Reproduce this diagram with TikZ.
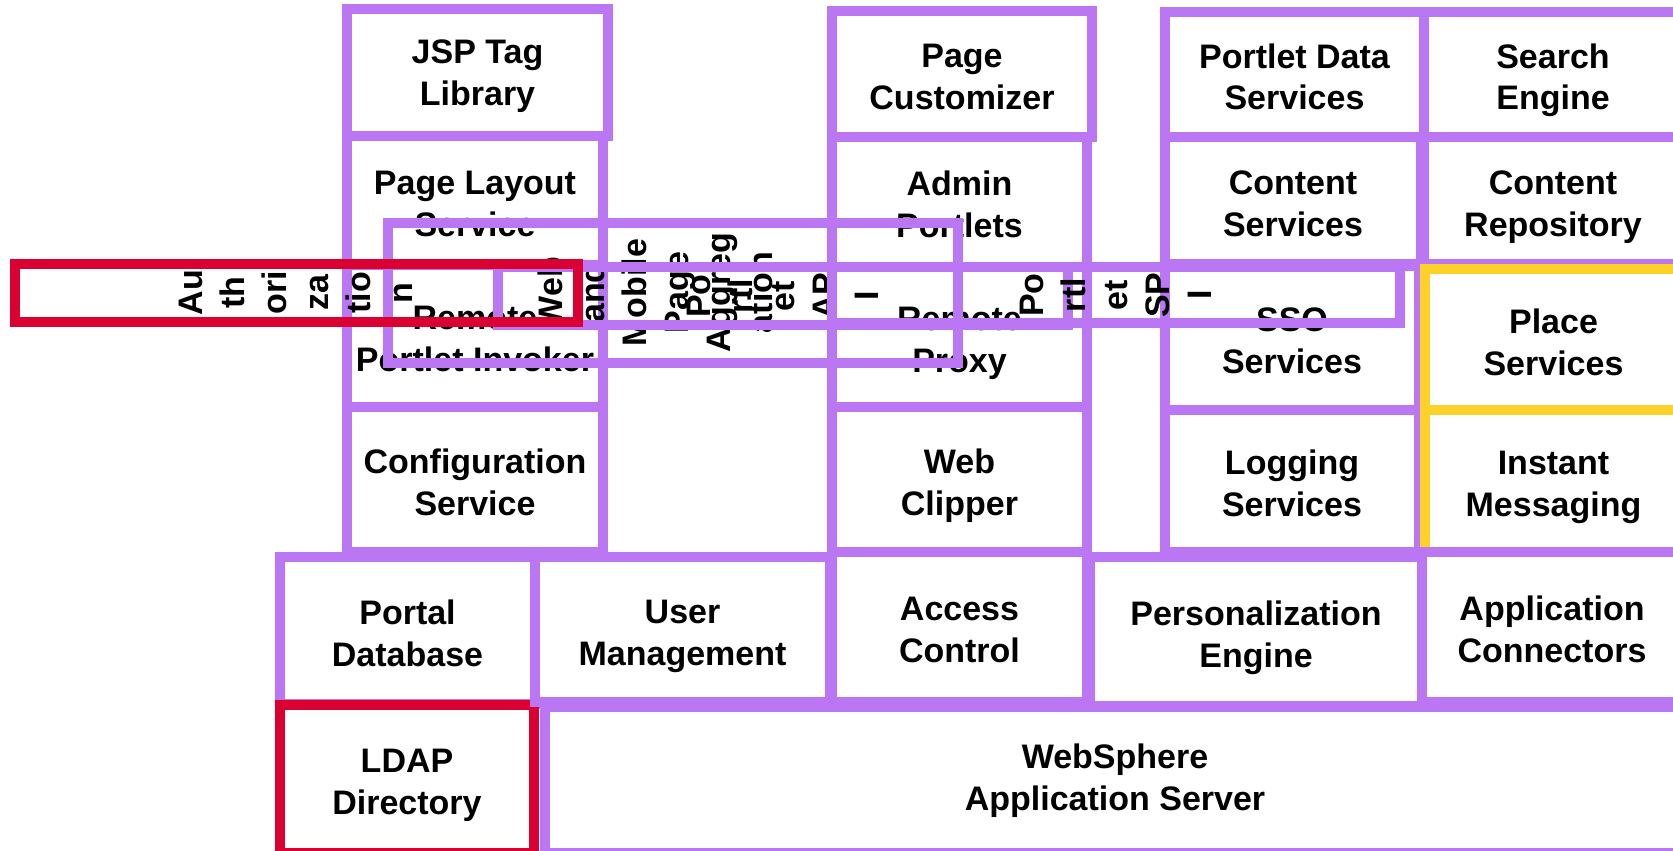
\documentclass[tikz,border=0pt]{standalone}
\usepackage{fontspec}
\setmainfont{Liberation Sans}
\usepackage{xcolor}
\usepackage{tikz}

\definecolor{lilac}{RGB}{186,118,243}
\definecolor{alertred}{RGB}{219,0,50}
\definecolor{sunny}{RGB}{252,209,42}

\begin{document}
\begin{tikzpicture}[
    x = 1pt,
    y = -1pt,
    boxed/.style = {draw=lilac, line width=10pt, inner sep=0pt, align=center,
      font=\fontsize{34}{42}\selectfont\bfseries},
    cell/.style = {boxed, text height=71pt, text depth=0pt},
    sz/.style 2 args = {minimum width=#1pt, minimum height=#2pt},
    band/.style = {boxed, rotate=90}]
    \fill[white] (0,0) rectangle (1673,851);
    \useasboundingbox (0,0) rectangle (1673,851);
    % left column
    \node[cell, sz={261}{126.5}, text height=66pt] (jsp) at (477.5,72.75) {JSP Tag\\Library};
    \node[cell, sz={256}{129}] (layout) at (475,200.5) {Page Layout\\Service};
    \node[cell, sz={256}{142}] (invoker) at (475,336) {Remote\\Portlet Invoker};
    \node[cell, sz={256}{145}] (config) at (475,479.5) {Configuration\\Service};
    \node[cell, sz={255}{147}] (portaldb) at (407.5,630.5) {Portal\\Database};
    \node[cell, sz={254}{148}, draw=alertred] (ldap) at (407,779) {LDAP\\Directory};
    \node[cell, sz={295}{145}] (usermgmt) at (682.5,629.5) {User\\Management};
    \node[cell, sz={1140}{146}, text height=60pt] (websphere) at (1115,780) {WebSphere\\Application Server};
    % middle column
    \node[cell, sz={260}{126}] (customizer) at (962,74) {Page\\Customizer};
    \node[cell, sz={255}{130}] (admin) at (959.5,202) {Admin\\Portlets};
    \node[cell, sz={255}{140}] (rproxy) at (959.5,337) {Remote\\Proxy};
    \node[cell, sz={255}{145}] (clipper) at (959.5,479.5) {Web\\Clipper};
    \node[cell, sz={255}{150}] (access) at (959.5,627) {Access\\Control};
    % right columns
    \node[cell, sz={259}{125}] (pds) at (1294.5,74.5) {Portlet Data\\Services};
    \node[cell, sz={256}{127}] (csvc) at (1293,200.5) {Content\\Services};
    \node[cell, sz={254}{144}] (sso) at (1292,338) {SSO\\Services};
    \node[cell, sz={254}{142}] (logging) at (1292,481) {Logging\\Services};
    \node[cell, sz={332}{149}] (perso) at (1256,631.5) {Personalization\\Engine};
    \node[cell, sz={258}{125}] (search) at (1553,74.5) {Search\\Engine};
    \node[cell, sz={258}{127}] (repo) at (1553,200.5) {Content\\Repository};
    \node[cell, sz={257}{141}, draw=sunny] (place) at (1553.5,339.5) {Place\\Services};
    \node[cell, sz={257}{142}, draw=sunny] (im) at (1553.5,481) {Instant\\Messaging};
    \node[cell, sz={260}{150}] (appconn) at (1552,627) {Application\\Connectors};
    % rotated bands
    \node[band, sz={140}{570}] (aggreg) at (673,293) {};
    \node[band, draw=none] (aggregtxt) at (655,292.5) {Web\\and\\Mobile\\Page\\Aggreg\\ation};
    \node[band, sz={58}{570}] (api) at (783,296) {Po\\rtl\\et\\AP\\I};
    \node[band, sz={56}{568}] (spi) at (1116,295) {Po\\rtl\\et\\SP\\I};
    \node[band, sz={58.5}{563.5}, draw=alertred] (authz) at (296.25,292.75) {Au\\th\\ori\\za\\tio\\n};
\end{tikzpicture}
\end{document}
